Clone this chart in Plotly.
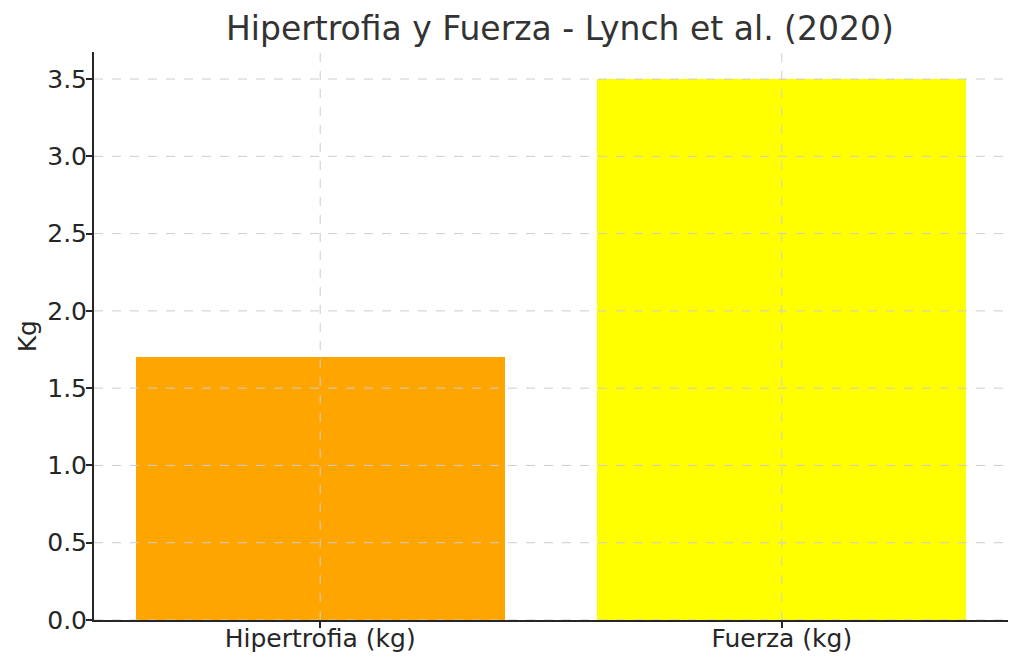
import plotly.graph_objects as go

categories = ["Hipertrofia (kg)", "Fuerza (kg)"]
values = [1.7, 3.5]
bar_colors = ["#FFA500", "#FFFF00"]
y_ticks = [0.0, 0.5, 1.0, 1.5, 2.0, 2.5, 3.0, 3.5]
y_tick_labels = ["0.0", "0.5", "1.0", "1.5", "2.0", "2.5", "3.0", "3.5"]

FONT = "DejaVu Sans"
TEXT = "#262626"
GRID = "#cccccc"

fig = go.Figure()
fig.add_trace(go.Bar(x=[0, 1], y=values, width=0.8, marker_color=bar_colors,
                     marker_line_width=0, showlegend=False))

# matplotlib draws the dashed grid on top of the bars, so use shapes above
for yv in y_ticks:
    fig.add_shape(type="line", xref="paper", x0=0, x1=1, yref="y", y0=yv, y1=yv,
                  line=dict(color=GRID, width=1, dash="dash"), layer="above")
for xv in range(len(categories)):
    fig.add_shape(type="line", xref="x", x0=xv, x1=xv, yref="paper", y0=0, y1=1,
                  line=dict(color=GRID, width=1, dash="dash"), layer="above")

# y axis title as an annotation so its position is exact
fig.add_annotation(text="Kg", textangle=-90, xref="paper", yref="paper",
                   x=-0.073, y=0.5, xanchor="center", yanchor="middle", showarrow=False,
                   font=dict(size=25, color=TEXT))

fig.update_layout(
    width=1024, height=667,
    margin=dict(l=86, r=24, t=44, b=55),
    plot_bgcolor="white", paper_bgcolor="white",
    font=dict(family=FONT, color=TEXT, size=25),
    title=dict(text="Hipertrofia y Fuerza - Lynch et al. (2020)", x=0.539, xanchor="center",
               y=0.97, yanchor="middle", font=dict(size=33, color="#333333")),
    bargap=0,
)
fig.update_xaxes(range=[-0.49, 1.49], tickvals=[0, 1], ticktext=categories,
                 automargin=False, showgrid=False, zeroline=False,
                 showline=True, linecolor=TEXT, linewidth=2,
                 ticks="outside", ticklen=6, tickwidth=1.5, tickcolor=TEXT,
                 ticklabelstandoff=-11, tickfont=dict(size=25, color=TEXT))
fig.update_yaxes(range=[0, 3.675], tickvals=y_ticks, ticktext=y_tick_labels,
                 automargin=False, showgrid=False, zeroline=False,
                 showline=True, linecolor=TEXT, linewidth=2,
                 ticks="outside", ticklen=6, tickwidth=1.5, tickcolor=TEXT,
                 ticklabelstandoff=-6, tickfont=dict(size=25, color=TEXT))

fig.write_html("out.html")
